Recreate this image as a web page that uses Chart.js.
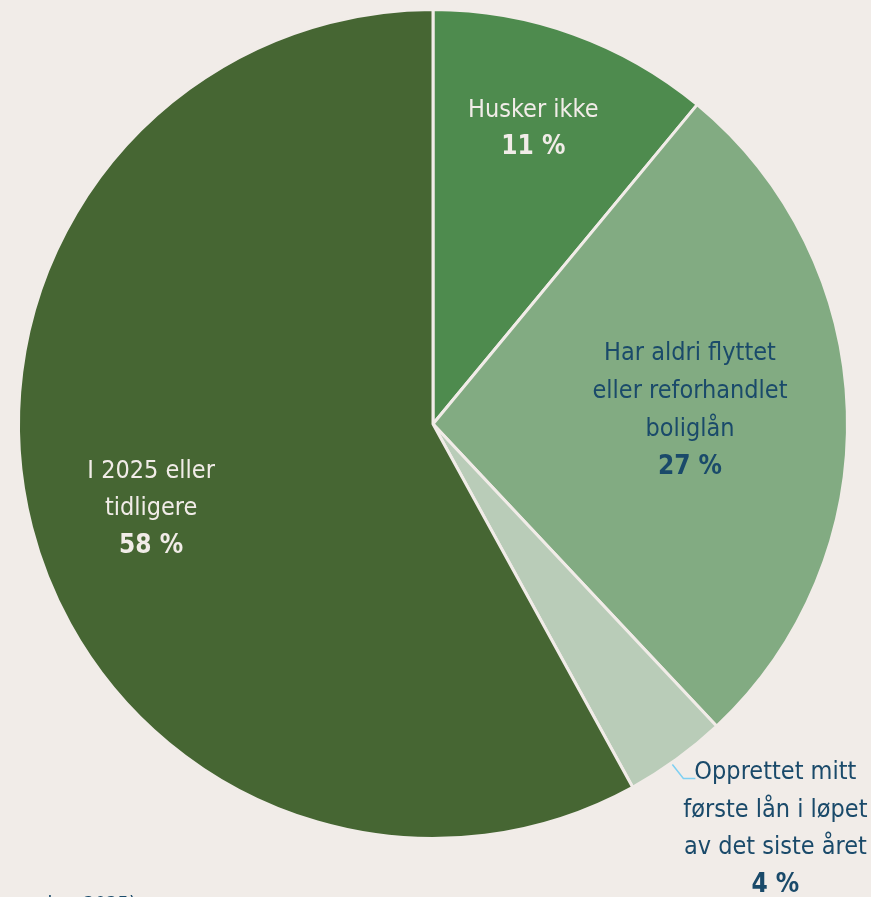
<!DOCTYPE html>
<html>
<head>
<meta charset="utf-8">
<script src="https://cdn.jsdelivr.net/npm/chart.js@4.4.1/dist/chart.umd.min.js"></script>
<style>
  html, body { margin: 0; padding: 0; background: #f1ece8; }
  #wrap { position: relative; width: 871px; height: 897px; overflow: hidden; }
  canvas { display: block; }
</style>
</head>
<body>
<div id="wrap"><canvas id="c" width="871" height="897"></canvas></div>
<script>
const categories = [
  ["Husker ikke"],
  ["Har aldri flyttet", "eller reforhandlet", "boliglån"],
  ["Opprettet mitt", "første lån i løpet", "av det siste året"],
  ["I 2025 eller", "tidligere"]
];
const values = [11, 27, 4, 58];
const valueLabels = ["11 %", "27 %", "4 %", "58 %"];
const sourceNote = "desember 2025)";

const colors = ["#4e8b4e", "#82ab82", "#b9ccb8", "#466633"];
const textColors = ["#f1ece8", "#1a4a6a", "#1a4a6a", "#f1ece8"];
const BG = "#f1ece8";
const FONT = "'Liberation Sans Narrow', 'DejaVu Sans Condensed', Roboto, sans-serif";

// label placement: [dx, dy] offsets of the label block centre relative to pie centre, in radius fractions
const labelPos = [[0.242, -0.712], [0.62, -0.033], [0.826, 0.977], [-0.68, 0.205]];

const labelPlugin = {
  id: 'sliceLabels',
  afterDraw(chart) {
    const ctx = chart.ctx;
    const meta = chart.getDatasetMeta(0);
    const arc0 = meta.data[0];
    const cx = arc0.x, cy = arc0.y, r = arc0.outerRadius;
    const lh = 37.7;
    ctx.save();
    ctx.textAlign = 'center';
    ctx.textBaseline = 'middle';
    categories.forEach((lines, i) => {
      const bx = cx + labelPos[i][0] * r;
      const by = cy + labelPos[i][1] * r;
      const n = lines.length + 1;
      let y = by - (n - 1) * lh / 2;
      ctx.fillStyle = textColors[i];
      ctx.font = "400 25px " + FONT;
      lines.forEach(l => { ctx.fillText(l, bx, y); y += lh; });
      ctx.font = "700 26px " + FONT;
      ctx.fillText(valueLabels[i], bx, y);
      if (i === 2) {
        // leader line
        const x0 = bx - 80, y0 = by - 50.5;
        ctx.strokeStyle = "#7fd0f2";
        ctx.lineWidth = 1.5;
        ctx.beginPath();
        ctx.moveTo(x0 - 23, y0 - 14);
        ctx.lineTo(x0 - 12, y0);
        ctx.lineTo(x0, y0);
        ctx.stroke();
      }
    });
    ctx.fillStyle = "#1a4a6a";
    ctx.font = "400 20px " + FONT;
    ctx.textAlign = 'right';
    ctx.textBaseline = 'alphabetic';
    ctx.fillText(sourceNote, 136, 910);
    ctx.restore();
  }
};

new Chart(document.getElementById('c'), {
  type: 'pie',
  data: {
    labels: categories.map(c => c.join(' ')),
    datasets: [{
      data: values,
      backgroundColor: colors,
      borderColor: BG,
      borderWidth: 3,
      hoverOffset: 0
    }]
  },
  options: {
    responsive: false,
    animation: false,
    layout: { padding: { left: 17, right: 22, top: 8, bottom: 57 } },
    plugins: {
      legend: { display: false },
      tooltip: { enabled: false }
    }
  },
  plugins: [labelPlugin]
});
</script>
</body>
</html>
